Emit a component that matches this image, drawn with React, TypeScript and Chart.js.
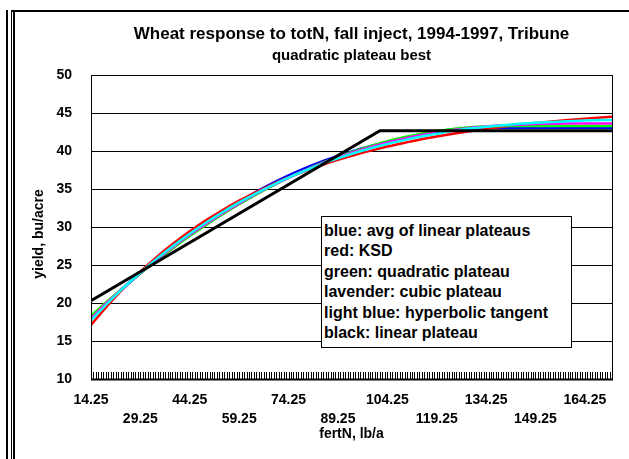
import React, { useEffect, useRef } from 'react';
import { Chart, registerables } from 'chart.js';

Chart.register(...registerables);

const FONT = "'Liberation Sans', Arial, sans-serif";

// x positions (fertN, lb/a) where the fitted curves were sampled
const X_GRID = [
  14.25, 19.25, 24.25, 29.25, 34.25, 39.25, 44.25, 49.25, 54.25, 59.25, 64.25,
  69.25, 74.25, 79.25, 84.25, 89.25, 94.25, 99.25, 104.25, 109.25, 114.25,
  119.25, 124.25, 129.25, 134.25, 139.25, 144.25, 149.25, 154.25, 159.25,
  164.25, 169.25, 172.5,
];

// blue: avg of linear plateaus
const BLUE_AVG_LP = [
  18.0, 20.05, 22.0, 23.9, 25.7, 27.4, 29.0, 30.5, 31.95, 33.3, 34.6, 35.75,
  36.8, 37.75, 38.6, 39.35, 40.05, 40.65, 41.2, 41.7, 42.15, 42.55, 42.85, 43.0,
  43.05, 43.05, 43.05, 43.05, 43.05, 43.05, 43.05, 43.05, 43.05,
];

// red: KSD
const RED_KSD = [
  17.1, 19.66, 21.99, 24.12, 26.06, 27.82, 29.43, 30.9, 32.24, 33.46, 34.57,
  35.59, 36.51, 37.36, 38.13, 38.83, 39.47, 40.05, 40.58, 41.06, 41.51, 41.91,
  42.27, 42.61, 42.91, 43.19, 43.45, 43.68, 43.89, 44.08, 44.26, 44.42, 44.5,
];

// green: quadratic plateau
const GREEN_QP = [
  18.3, 20.25, 22.12, 23.91, 25.62, 27.25, 28.81, 30.28, 31.67, 32.99, 34.23,
  35.39, 36.47, 37.46, 38.39, 39.23, 39.99, 40.67, 41.28, 41.8, 42.25, 42.62,
  42.91, 43.12, 43.25, 43.3, 43.3, 43.3, 43.3, 43.3, 43.3, 43.3, 43.3,
];

// lavender: cubic plateau
const LAVENDER_CP = [
  17.95, 20.1, 22.09, 23.97, 25.73, 27.4, 28.97, 30.44, 31.82, 33.11, 34.32,
  35.44, 36.48, 37.44, 38.33, 39.13, 39.86, 40.52, 41.11, 41.62, 42.07, 42.45,
  42.78, 43.04, 43.23, 43.38, 43.47, 43.54, 43.59, 43.62, 43.63, 43.63, 43.63,
];

// light blue: hyperbolic tangent
const CYAN_TANH = [
  17.7, 19.96, 22.06, 24.02, 25.84, 27.54, 29.12, 30.59, 31.96, 33.23, 34.4,
  35.49, 36.49, 37.41, 38.26, 39.03, 39.73, 40.36, 40.93, 41.43, 41.88, 42.27,
  42.65, 42.95, 43.2, 43.4, 43.57, 43.71, 43.83, 43.93, 44.01, 44.07, 44.1,
];

// black: linear plateau (start, join point, end)
const BLACK_X = [14.25, 102.0, 172.5];
const BLACK_LP = [20.3, 42.67, 42.67];

const X_MIN = 14.25;
const X_MAX = 172.5;
const X_CATEGORY_STEP = 0.75;
const X_TICK_LABELS = [
  '14.25', '29.25', '44.25', '59.25', '74.25', '89.25', '104.25', '119.25',
  '134.25', '149.25', '164.25',
];
const Y_MIN = 10;
const Y_MAX = 50;
const Y_STEP = 5;

const TITLE = 'Wheat response to totN, fall inject, 1994-1997, Tribune';
const SUBTITLE = 'quadratic plateau best';
const X_TITLE = 'fertN, lb/a';
const Y_TITLE = 'yield, bu/acre';
const LEGEND_LINES = [
  'blue: avg of linear plateaus',
  'red: KSD',
  'green: quadratic plateau',
  'lavender: cubic plateau',
  'light blue: hyperbolic tangent',
  'black: linear plateau',
];

const pts = (xs: number[], ys: number[]) => ys.map((y, i) => ({ x: xs[i], y }));

const framePlugin = {
  id: 'plotFrame',
  afterDraw(chart: any) {
    const { ctx, chartArea } = chart;
    const xs = chart.scales.x;
    const { left, right, top, bottom } = chartArea;
    ctx.save();
    ctx.strokeStyle = '#000';
    ctx.lineWidth = 1;
    ctx.strokeRect(Math.round(left) + 0.5, Math.round(top) + 0.5, Math.round(right - left), Math.round(bottom - top));
    // inner category tick marks along x axis
    ctx.beginPath();
    for (let v = X_MIN; v <= X_MAX + 1e-6; v += X_CATEGORY_STEP) {
      const px = Math.round(xs.getPixelForValue(v)) + 0.5;
      ctx.moveTo(px, bottom);
      ctx.lineTo(px, bottom - 7);
    }
    ctx.stroke();
    ctx.lineWidth = 2;
    ctx.beginPath();
    ctx.moveTo(left, Math.round(bottom) + 0.5);
    ctx.lineTo(right + 1, Math.round(bottom) + 0.5);
    ctx.stroke();
    // y axis title
    ctx.fillStyle = '#000';
    ctx.font = `bold 14px ${FONT}`;
    ctx.textAlign = 'center';
    ctx.textBaseline = 'middle';
    ctx.translate(23, 221);
    ctx.rotate(-Math.PI / 2);
    ctx.fillText(Y_TITLE, 0, 0);
    ctx.restore();
  },
};

function ChartCanvas() {
  const ref = useRef<HTMLCanvasElement | null>(null);
  useEffect(() => {
    if (!ref.current) return;
    const line = (label: string, xs: number[], ys: number[], color: string, width: number, smooth: boolean) => ({
      label,
      data: pts(xs, ys),
      borderColor: color,
      backgroundColor: color,
      borderWidth: width,
      pointRadius: 0,
      fill: false,
      cubicInterpolationMode: smooth ? 'monotone' : 'default',
      tension: 0,
    });
    const chart = new Chart(ref.current, {
      type: 'line',
      data: {
        datasets: [
          line('black: linear plateau', BLACK_X, BLACK_LP, '#000000', 3, false),
          line('light blue: hyperbolic tangent', X_GRID, CYAN_TANH, '#00ffff', 2.5, true),
          line('lavender: cubic plateau', X_GRID, LAVENDER_CP, '#ff00ff', 2.5, true),
          line('green: quadratic plateau', X_GRID, GREEN_QP, '#00ff00', 2.5, true),
          line('red: KSD', X_GRID, RED_KSD, '#ff0000', 2.5, true),
          line('blue: avg of linear plateaus', X_GRID, BLUE_AVG_LP, '#0000ff', 2.5, true),
        ] as any,
      },
      options: {
        animation: false,
        responsive: false,
        layout: { padding: { left: 0, right: 17, top: 0, bottom: 0 } },
        plugins: {
          legend: { display: false },
          tooltip: { enabled: false },
          title: {
            display: true,
            text: TITLE,
            fullSize: false,
            color: '#000',
            font: { family: FONT, size: 17, weight: 'bold', lineHeight: 1 },
            padding: { top: 13, bottom: 0 },
          },
          subtitle: {
            display: true,
            text: SUBTITLE,
            fullSize: false,
            color: '#000',
            font: { family: FONT, size: 15, weight: 'bold', lineHeight: 1 },
            padding: { top: 5, bottom: 12 },
          },
        },
        scales: {
          x: {
            type: 'linear',
            min: X_MIN,
            max: X_MAX,
            afterBuildTicks: (scale: any) => {
              scale.ticks = X_TICK_LABELS.map((t) => ({ value: parseFloat(t) }));
            },
            afterFit: (scale: any) => {
              scale.height = 80;
            },
            grid: { display: false, drawTicks: false },
            border: { display: true, color: '#000', width: 1 },
            ticks: {
              autoSkip: false,
              maxRotation: 0,
              minRotation: 0,
              padding: 12,
              color: '#000',
              font: { family: FONT, size: 14, weight: 'bold', lineHeight: 19 / 14 },
              callback: (value: any, index: number) => {
                const lbl = X_TICK_LABELS[index] ?? Number(value).toFixed(2);
                return index % 2 === 0 ? lbl : ['', lbl];
              },
            },
            title: {
              display: true,
              text: X_TITLE,
              color: '#000',
              font: { family: FONT, size: 14, weight: 'bold', lineHeight: 1.2 },
              padding: { top: 0, bottom: 16.6 },
            },
          },
          y: {
            type: 'linear',
            min: Y_MIN,
            max: Y_MAX,
            afterFit: (scale: any) => {
              scale.width = 75;
            },
            grid: { color: '#000', lineWidth: 1, drawTicks: false },
            border: { display: true, color: '#000', width: 1 },
            ticks: {
              stepSize: Y_STEP,
              padding: 19,
              color: '#000',
              font: { family: FONT, size: 14, weight: 'bold' },
            },
            title: { display: false },
          },
        },
      } as any,
      plugins: [framePlugin],
    });
    return () => chart.destroy();
  }, []);
  return <canvas ref={ref} width={613} height={446} style={{ position: 'absolute', left: 16, top: 13, width: 613, height: 446 }} />;
}

export default function App() {
  const bar = (left: number, top: number, width: number, height: number) => (
    <div style={{ position: 'absolute', left, top, width, height, background: '#000' }} />
  );
  return (
    <div style={{ position: 'fixed', left: 0, top: 0, width: 629, height: 459, background: '#fff', overflow: 'hidden' }}>
      {bar(6, 10, 2, 449)}
      {bar(11, 10, 1, 449)}
      {bar(13, 10, 2, 449)}
      {bar(11, 10, 618, 2)}
      <ChartCanvas />
      <div
        style={{
          position: 'absolute',
          left: 321,
          top: 216,
          width: 251,
          height: 132,
          boxSizing: 'border-box',
          border: '1px solid #000',
          background: '#fff',
          padding: '3.5px 2px',
          fontFamily: FONT,
          fontWeight: 'bold',
          fontSize: 16,
          lineHeight: '20.5px',
          color: '#000',
          whiteSpace: 'nowrap',
        }}
      >
        {LEGEND_LINES.map((t) => (
          <div key={t}>{t}</div>
        ))}
      </div>
    </div>
  );
}
